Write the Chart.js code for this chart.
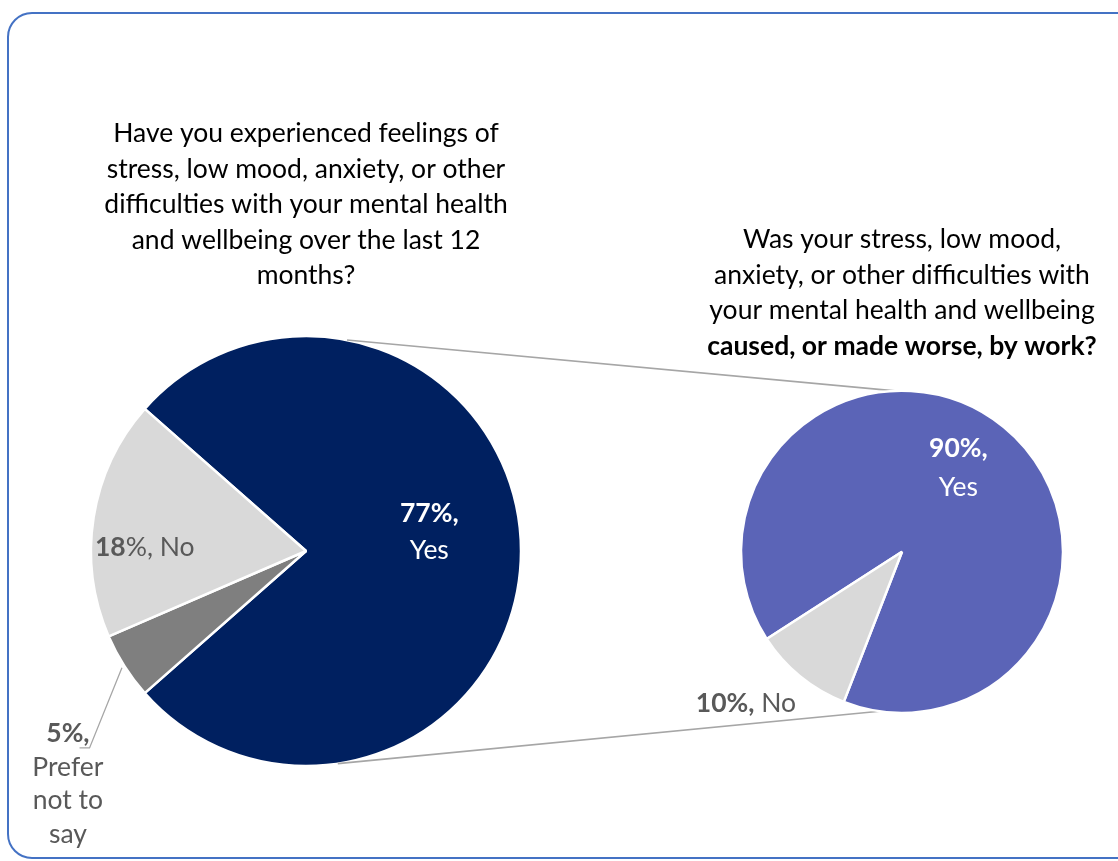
<!DOCTYPE html>
<html>
<head>
<meta charset="utf-8">
<title>Mental health and wellbeing</title>
<script src="https://cdn.jsdelivr.net/npm/chart.js@4.4.1/dist/chart.umd.min.js"></script>
<style>
  html, body { margin: 0; padding: 0; background: #fff; overflow: hidden; }
  #wrap  { position: relative; width: 1118px; height: 861px; overflow: hidden; }
  #frame { position: absolute; left: 7px; top: 12px; width: 1150px; height: 847px;
           box-sizing: border-box; border: 2px solid #4472C4; border-radius: 25px; }
  canvas { position: absolute; left: 0; top: 0; }
</style>
</head>
<body>
<div id="wrap">
  <div id="frame"></div>
  <canvas id="leftChart" width="1118" height="861"></canvas>
  <canvas id="rightChart" width="1118" height="861"></canvas>
</div>
<script>
// Data
const leftTitle      = ['Have you experienced feelings of', 'stress, low mood, anxiety, or other',
                        'difficulties with your mental health', 'and wellbeing over the last 12', 'months?'];
const leftCategories = ['Yes', 'Prefer not to say', 'No'];
const leftNames      = ['Yes', ['Prefer', 'not to', 'say'], 'No'];
const leftValues     = [77, 5, 18];
const leftColors     = ['#002060', '#7F7F7F', '#D9D9D9'];

const rightTitle      = ['Was your stress, low mood,', 'anxiety, or other difficulties with',
                         'your mental health and wellbeing'];
const rightSubtitle   = 'caused, or made worse, by work?';
const rightCategories = ['Yes', 'No'];
const rightValues     = [90, 10];
const rightColors     = ['#5B64B7', '#D9D9D9'];

const FONT      = 'Lato, "Open Sans", sans-serif';
const SIZE      = 26.5;
const DARK_TEXT = '#595959';
const LINE_GREY = '#A6A6A6';

// label placement: r = distance in radii along slice middle, shift = degrees
const leftLabelStyle = [
  { r: 0.58, shift: -8.6, layout: 'stack',  lh: 37, color: '#FFFFFF' },
  { r: 1.55, shift: -12,  layout: 'stack',  lh: 33.5, color: DARK_TEXT, leader: true },
  { r: 0.75, shift: -7.6, layout: 'digits', lh: 35, color: DARK_TEXT },
];
const rightLabelStyle = [
  { r: 0.63, shift: -5.4, layout: 'stack',  lh: 39, color: '#FFFFFF' },
  { r: 1.35, shift: 6.7,  layout: 'inline', lh: 35, color: DARK_TEXT },
];

function font(bold) {
  return `${bold ? 'bold ' : ''}${SIZE}px ${FONT}`;
}

function labelLines(value, name, layout) {
  const names = Array.isArray(name) ? name : [name];
  if (layout === 'stack')  return [[{ t: value + '%,', b: true }], ...names.map(n => [{ t: n }])];
  if (layout === 'digits') return [[{ t: String(value), b: true }, { t: '%, ' + names[0] }]];
  return [[{ t: value + '%,', b: true }, { t: ' ' + names[0] }]];
}

function drawRuns(ctx, runs, x, y) {
  let total = 0;
  runs.forEach(r => { ctx.font = font(r.b); r.w = ctx.measureText(r.t).width; total += r.w; });
  let cx = x - total / 2;
  runs.forEach(r => { ctx.font = font(r.b); ctx.fillText(r.t, cx, y); cx += r.w; });
  return total;
}

function sliceLabels(values, names, styles) {
  return {
    id: 'sliceLabels',
    afterDatasetsDraw(chart) {
      const ctx  = chart.ctx;
      const arcs = chart.getDatasetMeta(0).data;
      ctx.save();
      ctx.textBaseline = 'middle';
      ctx.textAlign = 'left';
      arcs.forEach((arc, i) => {
        const s = styles[i];
        const { x, y, startAngle, endAngle, outerRadius } =
          arc.getProps(['x', 'y', 'startAngle', 'endAngle', 'outerRadius'], true);
        const mid = (startAngle + endAngle) / 2;
        const a   = mid + s.shift * Math.PI / 180;
        const lx  = x + Math.cos(a) * s.r * outerRadius;
        const ly  = y + Math.sin(a) * s.r * outerRadius;
        const lines = labelLines(values[i], names[i], s.layout);
        const top = ly - (lines.length - 1) * s.lh / 2;

        ctx.fillStyle = s.color;
        const widths = lines.map((runs, j) => drawRuns(ctx, runs, lx, top + j * s.lh));

        if (s.leader) {
          const ex = lx + widths[0] / 2;
          const ey = top + 14;
          ctx.beginPath();
          ctx.moveTo(x + Math.cos(mid) * (outerRadius + 3), y + Math.sin(mid) * (outerRadius + 3));
          ctx.lineTo(ex, ey);
          ctx.lineTo(ex - 10, ey);
          ctx.strokeStyle = LINE_GREY;
          ctx.lineWidth = 1.3;
          ctx.stroke();
        }
      });
      ctx.restore();
    }
  };
}

// lines joining the two pies (angles in degrees, 0 = east)
const CONNECT = [[-79, -92.5], [81.5, 98]];

const connectors = {
  id: 'connectors',
  beforeDatasetsDraw(chart) {
    const a = leftChart.getDatasetMeta(0).data[0];
    const b = chart.getDatasetMeta(0).data[0];
    const ctx = chart.ctx;
    ctx.save();
    ctx.strokeStyle = LINE_GREY;
    ctx.lineWidth = 1.6;
    CONNECT.forEach(([p, q]) => {
      const pa = p * Math.PI / 180, qa = q * Math.PI / 180;
      ctx.beginPath();
      ctx.moveTo(a.x + Math.cos(pa) * a.outerRadius, a.y + Math.sin(pa) * a.outerRadius);
      ctx.lineTo(b.x + Math.cos(qa) * b.outerRadius, b.y + Math.sin(qa) * b.outerRadius);
      ctx.stroke();
    });
    ctx.restore();
  }
};

function pieOptions(rotation, radius, padding, title, titleBottom, subtitle) {
  return {
    responsive: false,
    animation: false,
    events: [],
    rotation,
    radius,
    layout: { padding },
    plugins: {
      legend: { display: false },
      tooltip: { enabled: false },
      title: {
        display: true,
        text: title,
        color: '#000000',
        font: { family: FONT, size: SIZE, weight: 'normal', lineHeight: '35.5px' },
        padding: { top: 0, bottom: titleBottom },
      },
      subtitle: subtitle ? {
        display: true,
        text: subtitle,
        color: '#000000',
        font: { family: FONT, size: SIZE, weight: 'bold', lineHeight: '35px' },
        padding: { top: 0, bottom: 28 },
      } : { display: false },
    },
  };
}

const leftChart = new Chart(document.getElementById('leftChart'), {
  type: 'pie',
  data: {
    labels: leftCategories,
    datasets: [{ data: leftValues, backgroundColor: leftColors, borderColor: '#FFFFFF', borderWidth: 2.5 }],
  },
  options: pieOptions(270 + 41.4, 215, { top: 116, left: 42, right: 548, bottom: 95 }, leftTitle, 42.5),
  plugins: [sliceLabels(leftValues, leftNames, leftLabelStyle)],
});

const rightChart = new Chart(document.getElementById('rightChart'), {
  type: 'pie',
  data: {
    labels: rightCategories,
    datasets: [{ data: rightValues, backgroundColor: rightColors, borderColor: '#FFFFFF', borderWidth: 2.5 }],
  },
  options: pieOptions(237.2, 161, { top: 222, left: 686, right: 0, bottom: 149 }, rightTitle, 0, rightSubtitle),
  plugins: [connectors, sliceLabels(rightValues, rightCategories, rightLabelStyle)],
});
</script>
</body>
</html>
